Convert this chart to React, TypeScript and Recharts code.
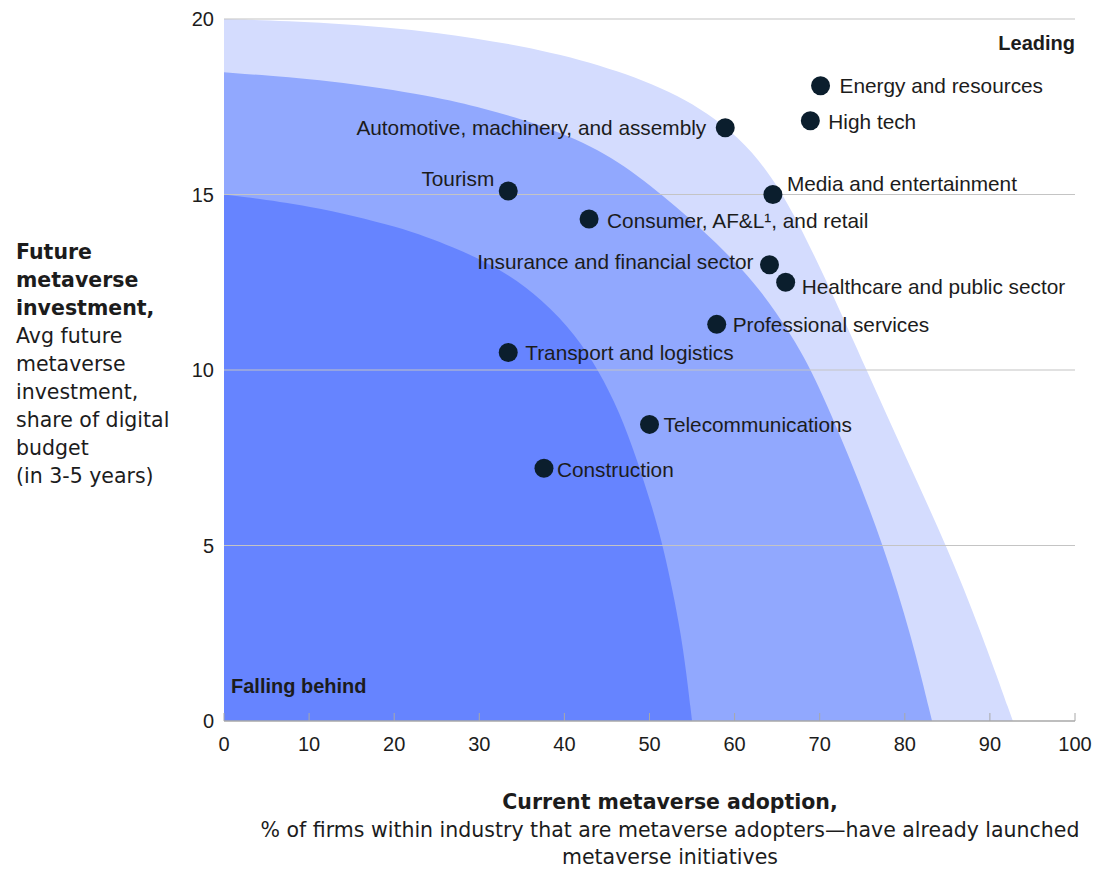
import React from "react";
import { ComposedChart, Area, Scatter, XAxis, YAxis, ReferenceLine } from "recharts";

// ---- data ----
const industries = [
  "Energy and resources",
  "High tech",
  "Automotive, machinery, and assembly",
  "Media and entertainment",
  "Tourism",
  "Consumer, AF&L¹, and retail",
  "Insurance and financial sector",
  "Healthcare and public sector",
  "Professional services",
  "Transport and logistics",
  "Telecommunications",
  "Construction",
];
const adoption = [70.1, 68.9, 58.9, 64.5, 33.4, 42.9, 64.1, 66.0, 57.9, 33.4, 50.0, 37.6];
const investment = [18.1, 17.1, 16.9, 15.0, 15.1, 14.3, 13.0, 12.5, 11.3, 10.5, 8.45, 7.2];

// band edges (x = adoption, y = investment), read along each boundary
const outerBandX = [0, 12.6, 25.2, 37.7, 46.2, 54.5, 60.8, 64.4, 67.3, 71, 75.5, 80.2, 84.9, 89, 92.7];
const outerBandY = [20, 19.9, 19.64, 19.12, 18.55, 17.74, 16.6, 15.5, 14.3, 12.44, 10, 7.47, 5, 2.51, 0];
const middleBandX = [0, 12.6, 24.6, 30.5, 36.5, 44.2, 50, 56.3, 62.6, 66.5, 69.1, 73.6, 77.5, 80.8, 83.2];
const middleBandY = [18.48, 18.26, 17.8, 17.45, 17.05, 16.3, 15.3, 14.0, 12.47, 11.05, 10, 7.47, 5, 2.4, 0];
const innerBandX = [0, 10, 20.7, 27, 32.4, 37.5, 41.3, 44, 46.5, 48.5, 50.3, 51.6, 53.8, 55];
const innerBandY = [15, 14.7, 14.08, 13.5, 12.9, 12.0, 11.0, 10, 8.8, 7.47, 6.1, 5, 2.5, 0];

const xTicks = [0, 10, 20, 30, 40, 50, 60, 70, 80, 90, 100];
const yTicks = [0, 5, 10, 15, 20];
const gridLines = [5, 10, 15, 20];

// label placement next to each dot (dx, dy in px, side)
const labelPlacement: Record<string, { dx: number; dy: number; anchor: "start" | "end" }> = {
  "Energy and resources": { dx: 19, dy: 0, anchor: "start" },
  "High tech": { dx: 18, dy: 1, anchor: "start" },
  "Automotive, machinery, and assembly": { dx: -19, dy: 0, anchor: "end" },
  "Media and entertainment": { dx: 14, dy: -11, anchor: "start" },
  Tourism: { dx: -14, dy: -12, anchor: "end" },
  "Consumer, AF&L¹, and retail": { dx: 18, dy: 1, anchor: "start" },
  "Insurance and financial sector": { dx: -16, dy: -3, anchor: "end" },
  "Healthcare and public sector": { dx: 16, dy: 4, anchor: "start" },
  "Professional services": { dx: 16, dy: 0, anchor: "start" },
  "Transport and logistics": { dx: 17, dy: 0, anchor: "start" },
  Telecommunications: { dx: 14, dy: 0, anchor: "start" },
  Construction: { dx: 13, dy: 1, anchor: "start" },
};

const toPoints = (xs: number[], ys: number[]) => xs.map((x, i) => ({ x, y: ys[i] }));
const outerBand = toPoints(outerBandX, outerBandY);
const middleBand = toPoints(middleBandX, middleBandY);
const innerBand = toPoints(innerBandX, innerBandY);
const points = industries.map((name, i) => ({ name, x: adoption[i], y: investment[i] }));

const FONT = "'Liberation Sans', Arial, sans-serif";
const TITLE_FONT = "'DejaVu Sans', 'Liberation Sans', sans-serif";
const TEXT = "#1c1c1c";

function XTick({ x, y, payload }: any) {
  return (
    <g>
      <line x1={x} x2={x} y1={y - 8} y2={y} stroke="#a8a8a8" strokeWidth={1} />
      <text x={x} y={y + 30} textAnchor="middle" fontSize={20} fill={TEXT} fontFamily={FONT}>
        {payload.value}
      </text>
    </g>
  );
}

function Dot(props: any) {
  const { cx, cy, payload } = props;
  const p = labelPlacement[payload.name];
  return (
    <g>
      <circle cx={cx} cy={cy} r={9.5} fill="#0b1e2d" />
      <text
        x={cx + p.dx}
        y={cy + p.dy}
        textAnchor={p.anchor}
        dominantBaseline="central"
        fontSize={20.8}
        fill={TEXT}
        fontFamily={FONT}
      >
        {payload.name}
      </text>
    </g>
  );
}

export default function App() {
  return (
    <div style={{ position: "absolute", left: 0, top: 0, width: 1102, height: 871, background: "#fff", fontFamily: FONT, color: TEXT }}>
      <ComposedChart width={1102} height={871} margin={{ top: 19, right: 27, left: 184, bottom: 110 }}>
        <XAxis
          type="number"
          dataKey="x"
          domain={[0, 100]}
          ticks={xTicks}
          interval={0}
          axisLine={{ stroke: "#a8a8a8", strokeWidth: 1.5 }}
          tickLine={false}
          tickSize={0}
          tickMargin={0}
          tick={<XTick />}
          height={40}
          allowDataOverflow
        />
        <YAxis
          type="number"
          dataKey="y"
          domain={[0, 20]}
          ticks={yTicks}
          interval={0}
          axisLine={false}
          tickLine={false}
          tickSize={0}
          tickMargin={10}
          width={40}
          tick={{ fontSize: 20, fill: TEXT, fontFamily: FONT }}
          allowDataOverflow
        />
        <Area data={outerBand} dataKey="y" type="basis" stroke="none" fill="#d4dcfe" fillOpacity={1} isAnimationActive={false} />
        <Area data={middleBand} dataKey="y" type="basis" stroke="none" fill="#91a8fe" fillOpacity={1} isAnimationActive={false} />
        <Area data={innerBand} dataKey="y" type="basis" stroke="none" fill="#6684ff" fillOpacity={1} isAnimationActive={false} />
        {gridLines.map((v) => (
          <ReferenceLine key={v} y={v} stroke="#c4c4c4" strokeWidth={1.2} />
        ))}
        <Scatter data={points} dataKey="y" shape={<Dot />} isAnimationActive={false} />
      </ComposedChart>

      <div style={{ position: "absolute", right: 27, top: 30, fontSize: 20, fontWeight: 700, lineHeight: "26px" }}>Leading</div>
      <div style={{ position: "absolute", left: 231, top: 673, fontSize: 20, fontWeight: 700, lineHeight: "26px" }}>Falling behind</div>

      <div style={{ position: "absolute", left: 16, top: 238, fontSize: 20.5, lineHeight: "28px", width: 200, fontFamily: TITLE_FONT }}>
        <div style={{ fontWeight: 700 }}>Future</div>
        <div style={{ fontWeight: 700 }}>metaverse</div>
        <div style={{ fontWeight: 700 }}>investment,</div>
        <div>Avg future</div>
        <div>metaverse</div>
        <div>investment,</div>
        <div>share of digital</div>
        <div>budget</div>
        <div>(in 3-5 years)</div>
      </div>

      <div style={{ position: "absolute", left: 220, top: 789, width: 900, textAlign: "center", fontSize: 20.5, lineHeight: "27.5px", fontFamily: TITLE_FONT }}>
        <div style={{ fontWeight: 700 }}>Current metaverse adoption,</div>
        <div>% of firms within industry that are metaverse adopters—have already launched</div>
        <div>metaverse initiatives</div>
      </div>
    </div>
  );
}
